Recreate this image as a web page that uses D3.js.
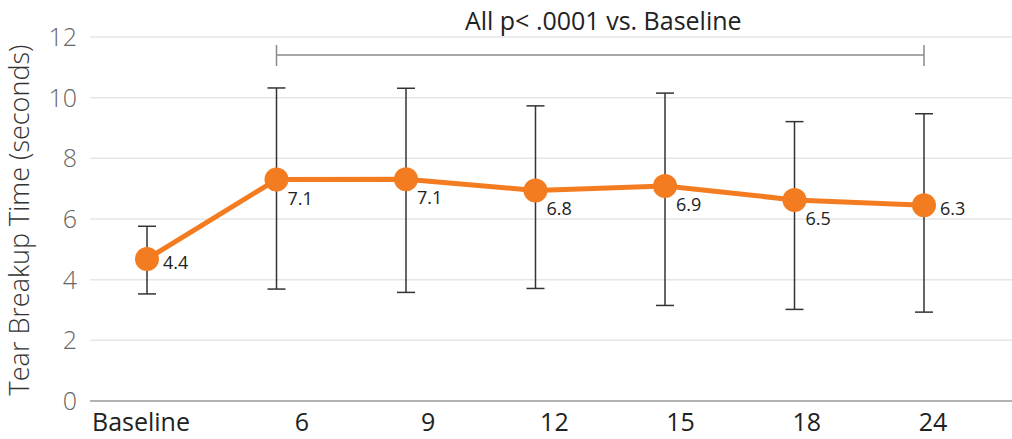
<!DOCTYPE html>
<html lang="en">
<head>
  <meta charset="UTF-8">
  <title>Tear Breakup Time</title>
  <style>
    body { margin: 0; background: #fff; }
    svg { display: block; font-family: "Open Sans", Roboto, sans-serif; }
  </style>
  <script src="https://d3js.org/d3.v7.min.js"></script>
</head>
<body>
  <svg width="1012" height="439"></svg>

  <script>
    // data
    var categories = ["Baseline", "6", "9", "12", "15", "18", "24"];
    var means  = [4.68, 7.30, 7.31, 6.94, 7.09, 6.63, 6.45];
    var upper  = [5.76, 10.32, 10.31, 9.73, 10.15, 9.21, 9.47];
    var lower  = [3.53, 3.69, 3.58, 3.71, 3.15, 3.02, 2.93];
    var labels = ["4.4", "7.1", "7.1", "6.8", "6.9", "6.5", "6.3"];
    var yTicks = [0, 2, 4, 6, 8, 10, 12];

    var width = 1012, height = 439;
    var plotLeft = 90, plotRight = 1012, plotTop = 37, plotBottom = 401;

    var svg = d3.select("svg");

    var x = d3.scalePoint()
      .domain(categories)
      .range([147, 924]);

    // the month labels sit a little right of their points in the original
    var xLabel = d3.scalePoint()
      .domain(categories.slice(1))
      .range([302, 933]);

    var y = d3.scaleLinear()
      .domain([0, 12])
      .range([plotBottom, plotTop]);

    // gridlines
    svg.append("g")
      .selectAll("line")
      .data(yTicks.filter(d => d > 0))
      .enter().append("line")
      .attr("x1", plotLeft).attr("x2", plotRight)
      .attr("y1", d => y(d)).attr("y2", d => y(d))
      .attr("stroke", "#e6e6e6")
      .attr("stroke-width", 1.5);

    // bottom axis line
    svg.append("line")
      .attr("x1", plotLeft).attr("x2", plotRight)
      .attr("y1", y(0)).attr("y2", y(0))
      .attr("stroke", "#9a9a9a")
      .attr("stroke-width", 1.5);

    // y tick labels
    svg.append("g")
      .selectAll("text")
      .data(yTicks)
      .enter().append("text")
      .attr("x", 77)
      .attr("y", d => y(d) + 9)
      .attr("text-anchor", "end")
      .attr("font-size", 25)
      .attr("font-weight", 300)
      .attr("fill", "#666")
      .text(d => d);

    // x tick labels
    svg.append("g")
      .selectAll("text")
      .data(categories)
      .enter().append("text")
      .attr("x", (d, i) => i === 0 ? x(d) - 6 : xLabel(d))
      .attr("y", 431)
      .attr("text-anchor", "middle")
      .attr("font-size", 25)
      .attr("fill", "#222")
      .text(d => d);

    // y axis title
    svg.append("text")
      .attr("transform", "translate(29,220) rotate(-90)")
      .attr("text-anchor", "middle")
      .attr("font-size", 27)
      .attr("font-weight", 300)
      .attr("fill", "#333")
      .text("Tear Breakup Time (seconds)");

    // significance bracket
    var bx1 = x(categories[1]), bx2 = x(categories[categories.length - 1]);
    var by = 55;
    var bracket = svg.append("g").attr("stroke", "#8a8a8a").attr("stroke-width", 1.5);
    bracket.append("line").attr("x1", bx1).attr("x2", bx2).attr("y1", by).attr("y2", by);
    bracket.append("line").attr("x1", bx1).attr("x2", bx1).attr("y1", by - 10).attr("y2", by + 11);
    bracket.append("line").attr("x1", bx2).attr("x2", bx2).attr("y1", by - 10).attr("y2", by + 11);

    svg.append("text")
      .attr("x", (bx1 + bx2) / 2 + 3)
      .attr("y", 30)
      .attr("text-anchor", "middle")
      .attr("font-size", 25)
      .attr("font-weight", 500)
      .attr("fill", "#222")
      .text("All p< .0001 vs. Baseline");

    // error bars
    var eb = svg.append("g").attr("stroke", "#333").attr("stroke-width", 1.5);
    categories.forEach(function(c, i) {
      var cx = x(c);
      eb.append("line").attr("x1", cx).attr("x2", cx).attr("y1", y(upper[i])).attr("y2", y(lower[i]));
      eb.append("line").attr("x1", cx - 9).attr("x2", cx + 9).attr("y1", y(upper[i])).attr("y2", y(upper[i]));
      eb.append("line").attr("x1", cx - 9).attr("x2", cx + 9).attr("y1", y(lower[i])).attr("y2", y(lower[i]));
    });

    // mean line
    var line = d3.line()
      .x((d, i) => x(categories[i]))
      .y(d => y(d));

    svg.append("path")
      .datum(means)
      .attr("d", line)
      .attr("fill", "none")
      .attr("stroke", "#f47c20")
      .attr("stroke-width", 5)
      .attr("stroke-linejoin", "round");

    svg.append("g")
      .selectAll("circle")
      .data(means)
      .enter().append("circle")
      .attr("cx", (d, i) => x(categories[i]))
      .attr("cy", d => y(d))
      .attr("r", 12)
      .attr("fill", "#f47c20");

    // value labels: end points to the right, interior points below-right
    svg.append("g")
      .selectAll("text")
      .data(means)
      .enter().append("text")
      .attr("x", (d, i) => x(categories[i]) + (i === 0 || i === means.length - 1 ? 16 : 11))
      .attr("y", (d, i) => y(d) + (i === 0 || i === means.length - 1 ? 10 : 25))
      .attr("font-size", 18)
      .attr("fill", "#222")
      .text((d, i) => labels[i]);
  </script>
</body>
</html>
